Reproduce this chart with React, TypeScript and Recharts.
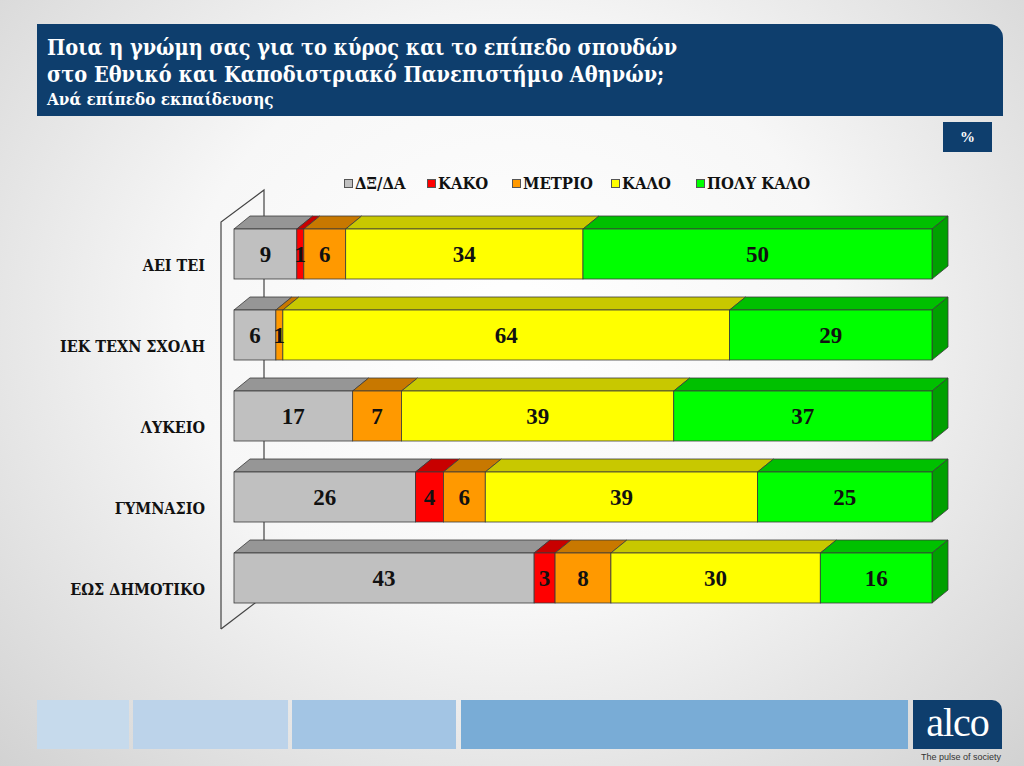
import React from 'react';
import { BarChart, Bar, XAxis, YAxis, LabelList } from 'recharts';

const categories = ['ΑΕΙ ΤΕΙ', 'ΙΕΚ ΤΕΧΝ ΣΧΟΛΗ', 'ΛΥΚΕΙΟ', 'ΓΥΜΝΑΣΙΟ', 'ΕΩΣ ΔΗΜΟΤΙΚΟ'];
const dxda = [9, 6, 17, 26, 43];
const kako = [1, 0, 0, 4, 3];
const metrio = [6, 1, 7, 6, 8];
const kalo = [34, 64, 39, 39, 30];
const polyKalo = [50, 29, 37, 25, 16];

const seriesNames = ['ΔΞ/ΔΑ', 'ΚΑΚΟ', 'ΜΕΤΡΙΟ', 'ΚΑΛΟ', 'ΠΟΛΥ ΚΑΛΟ'];
const seriesKeys = ['dxda', 'kako', 'metrio', 'kalo', 'polyKalo'];
const frontColors = ['#C0C0C0', '#FF0000', '#FF9900', '#FFFF00', '#00FF00'];
const topColors = ['#969696', '#C80000', '#C87800', '#C8C800', '#00C000'];
const sideColor = '#00A000';
const legendLeft = [344, 427, 512, 611, 696];

const data = categories.map((c, i) => ({
  name: c,
  dxda: dxda[i],
  kako: kako[i],
  metrio: metrio[i],
  kalo: kalo[i],
  polyKalo: polyKalo[i],
}));

const DX = 16;
const DY = 13;
const SERIF = '"Liberation Serif", "Times New Roman", serif';
const GREEK = '"DejaVu Serif Condensed", "DejaVu Serif", serif';

const makeShape = (topFill: string, withSide: boolean) => (props: any) => {
  const { x, y, width, height, fill } = props;
  if (!width || width <= 0) return <g />;
  const stroke = '#3a3a3a';
  return (
    <g>
      <polygon
        points={`${x},${y} ${x + width},${y} ${x + width + DX},${y - DY} ${x + DX},${y - DY}`}
        fill={topFill}
        stroke={stroke}
        strokeWidth={0.8}
      />
      {withSide && (
        <polygon
          points={`${x + width},${y} ${x + width + DX},${y - DY} ${x + width + DX},${y + height - DY} ${x + width},${y + height}`}
          fill={sideColor}
          stroke={stroke}
          strokeWidth={0.8}
        />
      )}
      <rect x={x} y={y} width={width} height={height} fill={fill} stroke={stroke} strokeWidth={0.8} />
    </g>
  );
};

const CatTick = (props: any) => {
  const { x, y, payload } = props;
  return (
    <text
      x={x}
      y={y + 13}
      textAnchor="end"
      dominantBaseline="middle"
      fontFamily={GREEK}
      fontWeight="bold"
      fontSize={16}
      fill="#111"
    >
      {payload.value}
    </text>
  );
};

const fmt = (v: any) => (v === 0 ? '' : v);

export default function App() {
  return (
    <div
      style={{
        position: 'absolute',
        left: 0,
        top: 0,
        width: 1024,
        height: 766,
        overflow: 'hidden',
        background: 'radial-gradient(ellipse at 50% 42%, #ffffff 0%, #f7f7f7 45%, #d2d2d2 100%)',
        fontFamily: GREEK,
      }}
    >
      {/* header */}
      <div
        style={{
          position: 'absolute',
          left: 37,
          top: 24,
          width: 966,
          height: 92,
          background: '#0E3E6D',
          borderTopRightRadius: 14,
          color: '#fff',
          fontWeight: 'bold',
        }}
      >
        <div style={{ position: 'absolute', left: 10, top: 10, fontSize: 21.5, lineHeight: '27px', whiteSpace: 'nowrap' }}>
          Ποια η γνώμη σας για το κύρος και το επίπεδο σπουδών
          <br />
          στο Εθνικό και Καποδιστριακό Πανεπιστήμιο Αθηνών;
        </div>
        <div style={{ position: 'absolute', left: 10, top: 65, fontSize: 17, lineHeight: '20px', whiteSpace: 'nowrap' }}>
          Ανά επίπεδο εκπαίδευσης
        </div>
      </div>
      {/* % box */}
      <div
        style={{
          position: 'absolute',
          left: 943,
          top: 122,
          width: 49,
          height: 30,
          background: '#0E3E6D',
          color: '#fff',
          fontWeight: 'bold',
          fontSize: 15,
          lineHeight: '30px',
          textAlign: 'center',
          fontFamily: SERIF,
        }}
      >
        %
      </div>
      {/* legend */}
      {seriesNames.map((n, i) => (
        <div
          key={n}
          style={{
            position: 'absolute',
            left: legendLeft[i],
            top: 174,
            display: 'flex',
            alignItems: 'center',
            fontWeight: 'bold',
            fontSize: 16.5,
            color: '#111',
            whiteSpace: 'nowrap',
          }}
        >
          <span
            style={{
              display: 'inline-block',
              width: 7,
              height: 7,
              background: frontColors[i],
              border: '1px solid #555',
              marginRight: 2,
            }}
          />
          <span>{n}</span>
        </div>
      ))}
      {/* wall */}
      <svg style={{ position: 'absolute', left: 0, top: 0 }} width={1024} height={766}>
        <polyline
          points="221,629 221,222 264,190 264,600"
          fill="none"
          stroke="#444"
          strokeWidth={1.2}
        />
        <line x1={221} y1={629} x2={264} y2={596} stroke="#444" strokeWidth={1.2} />
      </svg>
      {/* chart */}
      <div style={{ position: 'absolute', left: 0, top: 0 }}>
        <BarChart
          width={1024}
          height={766}
          data={data}
          layout="vertical"
          margin={{ top: 213, right: 92, bottom: 148, left: 0 }}
        >
          <XAxis type="number" domain={[0, 100]} hide />
          <YAxis
            type="category"
            dataKey="name"
            width={234}
            tick={<CatTick />}
            tickSize={0}
            tickMargin={29}
            tickLine={false}
            axisLine={false}
            interval={0}
          />
          {seriesKeys.map((k, i) => (
            <Bar
              key={k}
              dataKey={k}
              name={seriesNames[i]}
              stackId="a"
              fill={frontColors[i]}
              barSize={50}
              isAnimationActive={false}
              shape={makeShape(topColors[i], i === seriesKeys.length - 1)}
            >
              <LabelList
                dataKey={k}
                position="center"
                formatter={fmt}
                style={{ fontFamily: SERIF, fontWeight: 'bold', fontSize: 23, fill: '#111' }}
              />
            </Bar>
          ))}
        </BarChart>
      </div>
      {/* footer */}
      <div style={{ position: 'absolute', left: 37, top: 700, width: 92, height: 49, background: '#C6DAEC' }} />
      <div style={{ position: 'absolute', left: 133, top: 700, width: 155, height: 49, background: '#BCD3EA' }} />
      <div style={{ position: 'absolute', left: 292, top: 700, width: 164, height: 49, background: '#A3C5E4' }} />
      <div style={{ position: 'absolute', left: 461, top: 700, width: 447, height: 49, background: '#79ACD6' }} />
      <div
        style={{
          position: 'absolute',
          left: 913,
          top: 700,
          width: 89,
          height: 49,
          background: '#0E3E6D',
          borderTopRightRadius: 10,
          color: '#fff',
          fontSize: 40,
          lineHeight: '46px',
          textAlign: 'center',
          letterSpacing: -1,
          fontFamily: SERIF,
        }}
      >
        alco
      </div>
      <div
        style={{
          position: 'absolute',
          left: 921,
          top: 752,
          fontSize: 9,
          fontFamily: '"Liberation Sans Narrow", "Liberation Sans", sans-serif',
          color: '#333',
          whiteSpace: 'nowrap',
        }}
      >
        The pulse of society
      </div>
    </div>
  );
}
